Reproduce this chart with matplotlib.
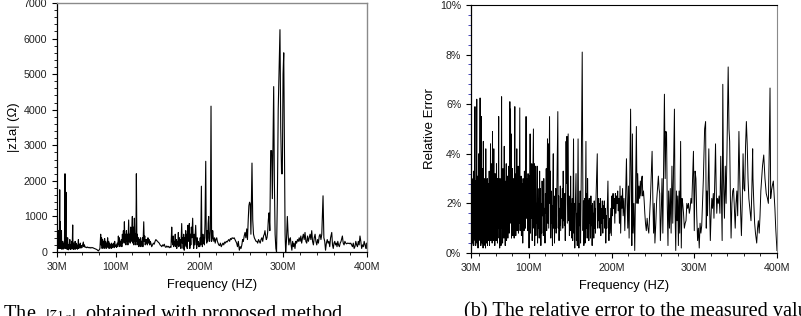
import matplotlib
matplotlib.use("Agg")
import matplotlib.pyplot as plt
from matplotlib.ticker import AutoMinorLocator, MultipleLocator, PercentFormatter

plt.rcParams['font.family'] = ['Liberation Sans', 'DejaVu Sans']
plt.rcParams['mathtext.fontset'] = 'stix'

# (a) |z1a| in ohm vs frequency (MHz)
freq_a = [
    30.0, 30.4, 30.7, 31.0, 31.3, 31.7, 32.0, 32.4, 32.7, 33.2,
    33.5, 34.0, 34.3, 34.6, 35.0, 35.3, 35.6, 36.0, 36.4, 36.8,
    37.2, 37.6, 38.0, 38.4, 38.8, 39.5, 39.8, 40.2, 40.7, 41.0,
    41.4, 41.8, 42.2, 42.7, 43.0, 43.4, 43.8, 44.3, 44.8, 45.3,
    45.8, 46.3, 46.8, 47.3, 47.8, 48.2, 48.7, 49.1, 49.6, 50.1,
    50.6, 51.1, 51.6, 52.1, 52.6, 53.2, 53.8, 54.4, 55.0, 55.5,
    56.0, 56.6, 57.2, 57.8, 58.4, 59.0, 59.6, 60.3, 61.4, 62.0,
    62.7, 63.5, 64.5, 65.5, 66.5, 67.5, 68.5, 69.5, 70.5, 71.5,
    72.5, 73.5, 74.5, 75.5, 76.5, 77.5, 78.5, 79.3, 80.3, 81.2,
    82.1, 82.6, 83.2, 83.8, 84.4, 85.0, 85.6, 86.2, 86.8, 87.4,
    88.0, 88.6, 89.2, 89.8, 90.4, 91.0, 91.6, 92.2, 92.8, 93.4,
    94.0, 94.6, 95.2, 95.8, 96.4, 97.0, 97.6, 98.2, 98.8, 99.4,
    100.4, 101.0, 101.8, 102.5, 103.2, 103.8, 104.4, 105.0, 105.6, 106.2,
    106.8, 107.4, 108.0, 108.6, 109.2, 109.8, 110.4, 111.0, 111.6, 112.2,
    112.8, 113.4, 114.0, 114.6, 115.5, 116.1, 116.7, 117.3, 117.9, 118.5,
    119.2, 119.9, 120.5, 121.1, 121.7, 122.3, 122.9, 123.5, 124.1, 124.7,
    125.3, 125.9, 126.5, 127.1, 127.7, 128.3, 128.9, 129.5, 130.1, 130.7,
    131.3, 131.9, 132.5, 133.5, 134.1, 134.7, 135.3, 135.9, 136.5, 137.1,
    137.8, 138.5, 139.2, 139.9, 140.6, 141.3, 142.0, 143.0, 144.0, 145.0,
    146.0, 147.0, 148.0, 149.0, 150.0, 151.0, 152.0, 153.0, 154.0, 155.0,
    156.0, 157.0, 158.0, 159.0, 160.0, 161.0, 162.0, 163.0, 164.0, 165.0,
    166.0, 166.9, 167.5, 168.1, 168.7, 169.3, 169.9, 170.5, 171.1, 171.7,
    172.3, 172.9, 173.5, 174.1, 174.8, 175.4, 176.0, 176.6, 177.2, 177.8,
    178.8, 179.4, 180.0, 180.6, 181.2, 181.8, 182.4, 183.0, 183.6, 184.2,
    184.8, 185.4, 186.0, 186.6, 187.2, 187.9, 188.5, 189.1, 189.7, 190.3,
    190.9, 191.9, 192.5, 193.1, 193.7, 194.3, 195.5, 196.1, 196.7, 197.3,
    197.9, 198.5, 199.1, 199.7, 200.3, 200.9, 201.5, 202.3, 202.9, 203.5,
    204.1, 204.7, 205.3, 205.9, 206.6, 207.5, 208.1, 208.7, 209.3, 209.9,
    210.4, 211.0, 211.6, 212.2, 213.0, 213.8, 214.5, 215.2, 215.8, 216.5,
    217.2, 218.0, 218.8, 219.6, 220.6, 221.4, 222.2, 223.0, 224.0, 225.0,
    226.0, 227.0, 228.0, 229.0, 230.0, 231.0, 232.0, 233.0, 234.0, 235.0,
    236.0, 237.0, 238.0, 239.0, 240.4, 241.4, 242.4, 243.4, 244.4, 245.4,
    246.4, 247.6, 248.6, 249.6, 250.6, 251.5, 252.4, 253.4, 254.4, 255.4,
    256.4, 257.3, 258.2, 259.0, 259.8, 260.6, 261.4, 262.7, 263.6, 264.5,
    265.5, 266.5, 267.5, 268.5, 269.5, 270.5, 271.5, 272.5, 273.5, 274.5,
    275.5, 276.5, 277.4, 278.2, 279.0, 279.8, 280.6, 281.4, 282.2, 283.0,
    284.0, 285.0, 286.2, 287.0, 288.6, 289.4, 290.3, 291.2, 292.0, 293.0,
    294.0, 296.1, 297.0, 298.0, 298.9, 299.8, 300.6, 301.4, 302.2, 302.9,
    303.8, 304.9, 305.8, 306.7, 307.6, 308.5, 309.4, 310.3, 311.2, 312.1,
    313.0, 314.0, 315.0, 316.0, 317.0, 318.0, 319.0, 320.0, 321.0, 322.0,
    323.0, 324.0, 325.0, 326.0, 327.0, 328.0, 329.0, 330.0, 331.0, 332.0,
    333.0, 334.0, 335.0, 336.0, 337.0, 338.0, 339.0, 340.0, 341.0, 342.0,
    343.0, 344.0, 345.0, 346.0, 347.5, 348.5, 349.5, 350.5, 351.5, 352.5,
    353.5, 354.5, 355.5, 356.5, 357.9, 358.8, 359.7, 360.6, 361.5, 362.4,
    363.3, 364.2, 365.1, 366.0, 367.0, 368.0, 369.0, 370.6, 371.6, 372.6,
    373.6, 374.6, 375.6, 376.6, 377.6, 378.6, 379.6, 380.6, 381.6, 382.6,
    383.6, 384.6, 385.6, 386.6, 387.6, 388.6, 389.6, 390.6, 391.6, 392.6,
    393.6, 394.6, 395.6, 396.6, 397.6, 398.6, 399.3, 400.0,
]
z1a = [
    200, 1000, 120, 600, 100, 450, 150, 600, 100, 1750,
    150, 850, 100, 400, 150, 600, 80, 250, 100, 300,
    80, 200, 100, 250, 120, 2200, 100, 300, 1680, 100,
    400, 80, 250, 400, 100, 60, 200, 100, 250, 350,
    70, 200, 100, 300, 80, 200, 760, 100, 250, 70,
    200, 120, 300, 80, 250, 100, 200, 80, 180, 350,
    100, 200, 130, 250, 110, 180, 120, 180, 280, 150,
    200, 130, 140, 120, 140, 120, 130, 110, 130, 115,
    125, 110, 100, 90, 80, 70, 50, 30, 60, 100,
    500, 200, 400, 100, 350, 150, 300, 100, 380, 150,
    300, 100, 250, 150, 400, 120, 300, 100, 250, 130,
    200, 100, 250, 120, 200, 150, 250, 120, 300, 150,
    200, 130, 250, 150, 450, 200, 400, 150, 300, 200,
    350, 150, 500, 250, 600, 300, 850, 250, 500, 200,
    600, 300, 500, 200, 900, 300, 500, 250, 700, 300,
    600, 1000, 250, 700, 200, 950, 300, 500, 200, 2200,
    300, 500, 200, 400, 150, 350, 200, 400, 150, 300,
    250, 400, 150, 850, 300, 450, 200, 350, 250, 350,
    200, 400, 250, 350, 200, 300, 250, 150, 200, 250,
    220, 300, 350, 320, 300, 270, 250, 200, 180, 150,
    200, 170, 220, 150, 130, 170, 140, 160, 120, 150,
    130, 700, 300, 200, 450, 150, 300, 200, 500, 150,
    350, 100, 300, 200, 550, 150, 400, 200, 350, 100,
    800, 250, 400, 100, 500, 50, 400, 200, 600, 150,
    500, 100, 750, 300, 500, 800, 100, 500, 200, 700,
    400, 950, 350, 100, 500, 200, 750, 300, 100, 400,
    200, 300, 150, 250, 150, 400, 200, 1850, 300, 150,
    500, 250, 400, 200, 800, 2550, 400, 250, 600, 300,
    800, 1000, 400, 300, 600, 4100, 300, 400, 600, 400,
    300, 400, 250, 350, 400, 300, 250, 200, 180, 250,
    150, 200, 250, 200, 280, 250, 300, 280, 320, 350,
    300, 380, 350, 400, 380, 400, 350, 300, 250, 150,
    300, 50, 150, 100, 200, 350, 300, 450, 550, 400,
    650, 350, 900, 1300, 1400, 1350, 500, 2500, 900, 500,
    400, 350, 300, 300, 250, 350, 300, 250, 350, 400,
    300, 450, 500, 600, 450, 350, 400, 550, 900, 1100,
    600, 2850, 2850, 1500, 4650, 2000, 500, 100, 0, 1500,
    4000, 6250, 3500, 2200, 2200, 5000, 5600, 3000, 500, 0,
    300, 1000, 500, 200, 350, 400, 200, 50, 300, 150,
    250, 100, 300, 250, 350, 300, 400, 300, 450, 250,
    400, 500, 350, 550, 300, 250, 450, 300, 400, 500,
    350, 600, 300, 200, 400, 500, 300, 200, 350, 250,
    450, 500, 350, 500, 1580, 400, 300, 50, 250, 350,
    250, 300, 150, 400, 550, 200, 100, 250, 300, 200,
    250, 150, 300, 200, 150, 250, 300, 450, 250, 200,
    300, 250, 230, 250, 240, 250, 230, 250, 200, 150,
    250, 100, 150, 300, 200, 150, 300, 200, 450, 300,
    100, 200, 150, 300, 200, 100, 250, 100,
]

# (b) relative error (%) vs frequency (MHz)
freq_b = [
    30.0, 30.3, 30.6, 30.9, 31.2, 31.5, 31.8, 32.1, 32.4, 32.7,
    33.0, 33.3, 33.6, 33.9, 34.2, 34.8, 35.1, 35.4, 35.7, 36.0,
    36.3, 36.6, 37.0, 37.3, 37.6, 37.9, 38.2, 38.5, 38.8, 39.1,
    39.4, 39.7, 40.0, 40.3, 40.6, 41.0, 41.3, 41.6, 41.9, 42.2,
    42.5, 42.8, 43.1, 43.4, 43.7, 44.0, 44.3, 44.6, 44.9, 45.2,
    45.5, 45.8, 46.1, 46.4, 46.7, 47.0, 47.3, 47.6, 47.9, 48.2,
    48.5, 48.8, 49.1, 49.4, 49.7, 50.0, 50.4, 50.8, 51.2, 51.6,
    52.0, 52.4, 52.8, 53.2, 53.6, 54.0, 54.4, 54.8, 55.2, 55.6,
    56.0, 56.4, 56.8, 57.2, 57.6, 58.0, 58.4, 58.8, 59.2, 59.6,
    60.0, 60.4, 60.8, 61.2, 61.6, 62.0, 62.4, 62.8, 63.5, 63.9,
    64.3, 64.7, 65.1, 65.5, 65.9, 66.3, 67.0, 67.4, 67.8, 68.2,
    68.6, 69.0, 69.4, 69.8, 70.2, 70.6, 71.0, 71.4, 71.8, 72.2,
    72.6, 73.0, 73.4, 73.8, 74.2, 74.6, 75.0, 75.4, 75.8, 76.2,
    77.0, 77.4, 77.8, 78.2, 78.6, 79.0, 79.4, 79.8, 80.2, 80.6,
    81.0, 81.4, 81.8, 82.2, 83.0, 83.4, 83.8, 84.2, 84.6, 85.0,
    85.4, 85.8, 86.2, 86.6, 87.0, 87.4, 87.8, 88.2, 89.0, 89.4,
    89.8, 90.2, 90.6, 91.0, 91.4, 91.8, 92.2, 92.6, 93.0, 93.4,
    93.8, 94.2, 94.6, 95.0, 95.4, 95.8, 96.6, 97.0, 97.4, 97.8,
    98.2, 98.6, 99.0, 99.4, 99.8, 100.2, 100.6, 101.0, 101.5, 102.0,
    102.5, 103.0, 103.5, 104.0, 104.5, 105.5, 106.0, 106.5, 107.0, 107.5,
    108.0, 108.5, 109.0, 109.5, 110.0, 110.5, 111.0, 111.5, 112.0, 112.5,
    113.0, 113.5, 114.0, 114.5, 115.0, 115.5, 116.0, 116.5, 117.0, 117.5,
    118.0, 118.5, 119.0, 119.5, 120.0, 120.5, 121.0, 121.5, 122.0, 122.5,
    123.0, 123.5, 124.0, 125.0, 125.5, 126.0, 126.5, 127.0, 127.5, 128.0,
    128.5, 129.0, 129.5, 130.0, 130.5, 131.0, 131.5, 132.0, 132.5, 133.0,
    133.5, 135.0, 135.5, 136.0, 136.5, 137.0, 137.5, 138.0, 138.5, 139.0,
    139.5, 140.0, 140.5, 141.0, 141.5, 142.0, 142.5, 143.0, 143.5, 144.0,
    145.0, 145.5, 146.0, 146.5, 147.5, 148.0, 148.5, 149.0, 149.5, 150.0,
    150.5, 151.0, 151.5, 152.0, 152.5, 153.0, 154.0, 154.5, 155.0, 155.5,
    156.0, 157.0, 157.5, 158.0, 158.5, 159.5, 160.0, 160.5, 161.0, 161.5,
    162.0, 162.5, 163.0, 164.5, 165.5, 166.0, 166.5, 167.0, 167.5, 168.0,
    169.0, 169.5, 170.0, 170.5, 171.0, 171.5, 172.0, 172.5, 173.0, 173.5,
    174.0, 174.5, 175.0, 175.5, 176.0, 176.5, 177.0, 177.5, 178.0, 178.5,
    179.0, 179.5, 180.0, 180.5, 181.0, 182.7, 183.3, 184.0, 184.6, 185.2,
    185.8, 186.4, 187.0, 187.6, 188.2, 188.8, 189.4, 190.0, 190.6, 191.2,
    191.8, 192.4, 193.0, 193.6, 194.2, 195.6, 196.2, 196.8, 197.5, 198.2,
    199.0, 199.7, 200.4, 201.1, 201.8, 202.5, 203.2, 203.9, 204.6, 205.3,
    206.0, 206.7, 207.4, 208.1, 208.8, 209.5, 210.2, 211.0, 211.8, 212.6,
    213.3, 214.0, 215.0, 216.0, 218.0, 218.8, 219.6, 220.4, 221.2, 223.0,
    223.8, 224.5, 225.2, 226.0, 227.0, 228.0, 230.0, 230.8, 231.6, 232.4,
    233.2, 234.0, 234.8, 235.6, 236.4, 237.0, 237.8, 238.6, 239.4, 240.2,
    241.0, 242.0, 243.0, 244.0, 245.0, 246.0, 247.0, 249.0, 250.0, 250.8,
    251.6, 252.4, 253.5, 254.5, 255.5, 256.6, 257.4, 258.2, 259.0, 260.0,
    261.0, 262.0, 263.9, 264.8, 265.7, 266.5, 267.3, 268.2, 269.0, 270.0,
    271.0, 272.0, 273.0, 274.0, 276.0, 276.8, 277.6, 278.4, 279.2, 280.0,
    280.8, 281.6, 282.4, 283.5, 284.3, 285.2, 286.0, 287.0, 288.0, 289.0,
    290.0, 291.0, 292.0, 293.0, 294.0, 295.0, 296.0, 297.0, 299.0, 300.0,
    301.0, 302.0, 303.0, 304.0, 305.0, 306.0, 307.0, 308.0, 309.0, 310.0,
    311.0, 312.5, 313.7, 314.5, 315.3, 316.0, 317.6, 318.5, 319.4, 320.3,
    321.2, 322.0, 323.0, 323.8, 325.7, 326.5, 327.2, 328.0, 329.0, 330.0,
    331.0, 332.0, 333.0, 333.7, 334.5, 335.3, 336.5, 337.5, 338.5, 339.5,
    341.0, 342.0, 342.8, 343.6, 344.5, 345.5, 346.5, 347.5, 348.5, 349.5,
    350.5, 351.5, 352.5, 354.0, 355.0, 356.2, 357.0, 358.0, 359.0, 360.0,
    361.0, 362.0, 363.0, 364.0, 365.0, 366.0, 367.2, 368.6, 369.6, 370.6,
    371.0, 372.0, 373.0, 374.0, 375.5, 376.5, 377.5, 378.5, 379.5, 380.5,
    381.5, 382.5, 384.0, 385.5, 387.0, 388.5, 389.6, 390.6, 391.6, 392.4,
    393.3, 394.3, 395.6, 396.6, 397.5, 398.5, 399.3, 400.0,
]
rel_err = [
    3.2, 0.5, 2.8, 0.3, 3.0, 0.8, 2.5, 0.4, 2.0, 1.0,
    3.3, 0.3, 2.2, 0.6, 1.8, 5.9, 0.5, 2.9, 0.3, 2.4,
    1.0, 3.5, 6.2, 0.4, 2.6, 0.8, 3.1, 0.2, 2.0, 1.2,
    4.0, 0.5, 2.7, 0.9, 3.2, 6.25, 0.6, 2.2, 0.3, 3.0,
    5.5, 0.8, 2.4, 0.4, 3.4, 1.0, 2.6, 0.2, 4.5, 1.2,
    2.8, 0.3, 2.2, 1.0, 3.0, 0.6, 2.5, 0.2, 4.2, 1.4,
    2.8, 0.4, 2.3, 0.8, 3.0, 0.3, 2.5, 0.5, 2.8, 1.1,
    3.3, 0.3, 2.0, 0.9, 4.4, 0.5, 2.6, 1.2, 3.6, 0.4,
    4.9, 1.0, 2.3, 0.5, 4.2, 0.8, 2.7, 0.3, 3.2, 1.0,
    2.4, 0.5, 3.6, 1.3, 2.7, 0.4, 3.0, 1.0, 5.5, 0.6,
    2.5, 0.2, 3.0, 1.3, 2.2, 0.3, 6.3, 1.0, 2.6, 0.4,
    3.4, 1.2, 2.3, 0.6, 4.3, 1.0, 2.9, 0.3, 2.4, 1.3,
    3.6, 0.5, 2.2, 1.0, 3.1, 0.6, 2.6, 1.5, 3.5, 0.8,
    6.1, 2.5, 5.8, 1.2, 4.8, 0.6, 2.9, 1.5, 3.4, 0.7,
    2.4, 1.3, 3.0, 0.6, 5.9, 1.0, 2.6, 0.7, 3.2, 1.5,
    4.2, 0.9, 2.6, 1.4, 3.5, 0.8, 2.5, 1.2, 5.85, 0.9,
    2.7, 1.5, 3.1, 0.7, 2.4, 1.3, 2.8, 0.4, 3.0, 1.8,
    2.6, 0.9, 3.3, 1.6, 2.8, 1.0, 5.5, 1.4, 3.0, 1.9,
    2.8, 0.9, 3.2, 1.5, 2.6, 0.2, 3.1, 1.0, 4.8, 0.8,
    2.9, 1.4, 3.6, 0.5, 2.3, 5.0, 1.0, 3.6, 0.3, 2.4,
    3.5, 0.7, 2.0, 1.2, 3.5, 0.4, 2.6, 1.0, 2.2, 0.6,
    3.3, 1.2, 2.6, 0.3, 2.0, 0.8, 2.9, 1.5, 2.4, 0.7,
    3.0, 1.2, 1.8, 0.4, 2.4, 1.6, 3.4, 0.9, 2.2, 4.6,
    1.2, 4.4, 1.0, 5.5, 2.0, 3.3, 0.6, 2.5, 1.2, 1.9,
    0.3, 2.7, 4.0, 1.0, 2.3, 0.4, 1.9, 1.0, 2.6, 0.8,
    1.5, 5.7, 1.0, 2.3, 0.5, 1.8, 1.1, 2.7, 0.9, 1.6,
    2.2, 1.4, 2.6, 1.0, 3.3, 1.3, 2.0, 1.1, 2.4, 0.5,
    4.5, 2.8, 4.7, 1.2, 4.8, 1.3, 2.3, 0.7, 2.2, 0.9,
    3.1, 1.5, 2.0, 0.6, 2.2, 0.5, 4.6, 0.8, 2.0, 0.2,
    1.6, 3.2, 0.5, 1.6, 0.3, 4.6, 1.6, 0.2, 2.0, 1.1,
    2.5, 0.4, 1.8, 8.1, 0.9, 2.1, 0.3, 1.5, 2.2, 0.4,
    4.5, 1.0, 2.4, 0.6, 3.0, 1.5, 2.1, 0.5, 2.2, 1.2,
    1.7, 0.6, 2.3, 1.1, 1.9, 0.3, 2.0, 1.4, 1.6, 0.6,
    2.1, 1.0, 1.8, 0.8, 2.0, 4.0, 1.0, 2.2, 1.3, 2.0,
    1.0, 2.2, 0.7, 1.8, 1.2, 2.1, 0.8, 1.9, 1.4, 2.1,
    1.0, 1.8, 0.4, 1.5, 1.0, 2.9, 1.2, 0.5, 1.4, 0.8,
    1.8, 0.7, 2.3, 1.5, 2.4, 1.8, 2.2, 1.2, 2.4, 1.6,
    2.3, 2.0, 2.5, 1.7, 2.2, 1.2, 2.7, 0.8, 2.3, 1.8,
    2.6, 1.5, 2.2, 0.9, 3.8, 2.0, 1.0, 2.7, 0.6, 5.8,
    2.5, 0.3, 4.8, 0.8, 2.0, 0.1, 5.1, 2.0, 3.2, 2.0,
    2.7, 2.2, 2.9, 2.3, 3.0, 3.1, 2.3, 2.5, 2.1, 1.6,
    1.2, 0.9, 1.4, 1.0, 0.8, 1.5, 2.2, 4.1, 2.0, 0.8,
    2.0, 0.4, 1.2, 2.1, 2.6, 3.1, 2.6, 2.4, 0.5, 1.5,
    3.0, 0.8, 6.4, 3.0, 4.9, 4.8, 2.0, 0.3, 2.5, 1.0,
    2.6, 0.8, 3.5, 1.2, 5.8, 1.6, 0.1, 2.5, 1.3, 2.3,
    0.3, 2.5, 0.8, 4.5, 0.2, 2.2, 2.0, 1.6, 1.0, 1.2,
    1.3, 2.0, 1.8, 2.0, 1.6, 1.8, 2.2, 2.0, 4.1, 0.9,
    3.3, 3.0, 1.5, 0.5, 1.0, 0.2, 1.2, 0.8, 1.1, 2.0,
    3.0, 5.0, 5.3, 1.0, 2.5, 1.5, 4.2, 2.0, 0.5, 1.5,
    2.2, 1.8, 2.4, 1.4, 4.4, 2.6, 1.6, 2.2, 2.0, 2.3,
    1.6, 3.9, 2.0, 0.5, 6.8, 3.0, 1.4, 3.5, 2.0, 4.0,
    7.5, 5.0, 4.5, 2.4, 0.6, 2.0, 2.5, 2.6, 1.8, 1.0,
    2.0, 2.5, 1.5, 4.9, 3.0, 1.5, 0.7, 2.0, 4.0, 2.6,
    2.5, 4.3, 5.3, 4.4, 3.0, 2.2, 1.8, 1.3, 2.5, 4.2,
    3.0, 2.0, 1.2, 0.8, 0.4, 1.0, 1.3, 0.8, 1.5, 2.5,
    3.0, 3.5, 3.95, 3.0, 2.4, 2.2, 2.0, 4.0, 6.65, 2.2,
    2.5, 2.7, 2.9, 2.3, 1.8, 1.0, 0.5, 0.1,
]

x_ticks = [30, 100, 200, 300, 400]
x_labels = ['30M', '100M', '200M', '300M', '400M']

fig = plt.figure(figsize=(8.01, 3.16), dpi=100)
ax1 = fig.add_axes([0.0712, 0.2025, 0.387, 0.788])
ax2 = fig.add_axes([0.588, 0.1994, 0.382, 0.785])

ax1.plot(freq_a, z1a, color='black', linewidth=0.8)
ax2.plot(freq_b, rel_err, color='black', linewidth=0.7)

for ax in (ax1, ax2):
    ax.set_xlim(30, 400)
    ax.set_xticks(x_ticks)
    ax.set_xticklabels(x_labels)
    ax.xaxis.set_minor_locator(MultipleLocator(20))
    ax.yaxis.set_minor_locator(AutoMinorLocator(5))
    ax.tick_params(which='major', direction='out', length=3.5, width=0.8,
                   labelsize=7.7, labelcolor='#222222', top=False, right=False)
    ax.tick_params(which='minor', direction='out', length=2, width=0.6,
                   top=False, right=False)
    ax.set_xlabel('Frequency (HZ)', fontsize=9.3, labelpad=5)
    for s in ('left', 'bottom'):
        ax.spines[s].set_color('black')
        ax.spines[s].set_linewidth(0.9)

ax1.set_ylim(0, 7000)
ax1.set_yticks(range(0, 7001, 1000))
ax1.set_ylabel('|z1a| (Ω)', fontsize=9.4, labelpad=3)
for s in ('top', 'right'):
    ax1.spines[s].set_color('#8a8a8a')
    ax1.spines[s].set_linewidth(1.0)

ax2.set_ylim(0, 10)
ax2.set_yticks(range(0, 11, 2))
ax2.yaxis.set_major_formatter(PercentFormatter(xmax=100, decimals=0))
ax2.tick_params(axis='y', which='minor', color='#2b2bb0')
ax2.set_ylabel('Relative Error', fontsize=9.5, labelpad=3)
ax2.spines['top'].set_color('black')
ax2.spines['right'].set_color('#8a8a8a')

# captions under the panels (cut by the figure edge as in the source)
cap_kw = dict(fontsize=14.6, family=['Liberation Serif', 'DejaVu Serif'], va='top')
fig.text(343 / 801, 1 - 302 / 316,
         r'(a) The  $\left|z_{1a}\right|$  obtained with proposed method',
         ha='right', **cap_kw)
fig.text(464 / 801, 1 - 302 / 316,
         '(b) The relative error to the measured values',
         ha='left', **cap_kw)

fig.savefig('out.png', dpi=100)
